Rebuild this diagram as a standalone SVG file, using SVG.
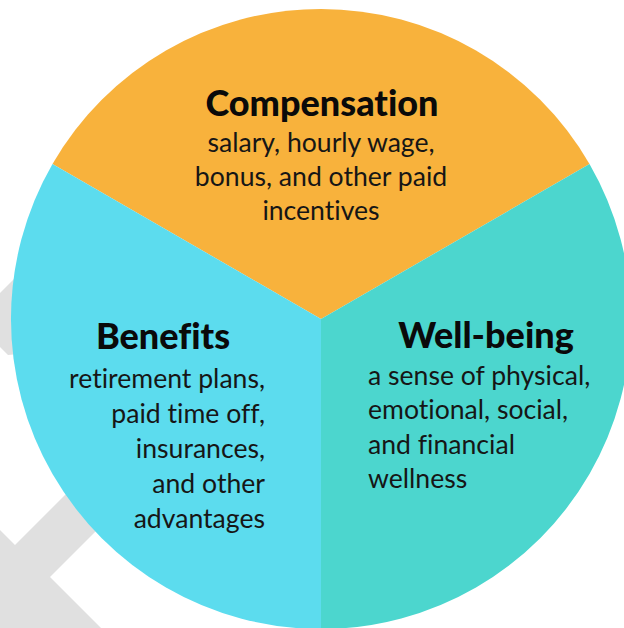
<svg xmlns="http://www.w3.org/2000/svg" width="624" height="628" viewBox="0 0 624 628">
  <style>
    text { font-variant-ligatures: none; }
    .head { font-family: Lato, "Liberation Sans", sans-serif; font-weight: 900; font-size: 36px; fill: #0a0a0a; }
    .body { font-family: Lato, "Liberation Sans", sans-serif; font-weight: 400; font-size: 26.6px; fill: #161616; }
    .mark { fill: #e0e0e0; }
  </style>
  <rect width="624" height="628" fill="#ffffff"/>

  <!-- faint background watermark strokes -->
  <g id="watermark">
    <polygon class="mark" points="0,293 40,253 40,352 8,355 0,347"/>
    <polygon class="mark" points="0,530 15,545 120,440 150,477 50,577 103,630 0,630"/>
  </g>

  <!-- wheel: three 120-degree sectors around (321,319), r=310 -->
  <g id="compensation">
    <path d="M321,319 L52.5,164 A310,310 0 0 1 589.5,164 Z" fill="#f8b23c"/>
    <text class="head" x="322" y="116" text-anchor="middle">Compensation</text>
    <text class="body" x="321" y="152" text-anchor="middle">salary, hourly wage,</text>
    <text class="body" x="321" y="186" text-anchor="middle">bonus, and other paid</text>
    <text class="body" x="321" y="220" text-anchor="middle">incentives</text>
  </g>

  <g id="benefits">
    <path d="M321,319 L321,629 A310,310 0 0 1 52.5,164 Z" fill="#5cdcee"/>
    <text class="head" x="163" y="349" text-anchor="middle">Benefits</text>
    <text class="body" x="265" y="388" text-anchor="end">retirement plans,</text>
    <text class="body" x="265" y="423" text-anchor="end">paid time off,</text>
    <text class="body" x="265" y="458" text-anchor="end">insurances,</text>
    <text class="body" x="265" y="493" text-anchor="end">and other</text>
    <text class="body" x="265" y="528" text-anchor="end">advantages</text>
  </g>

  <g id="well-being">
    <path d="M321,319 L589.5,164 A310,310 0 0 1 321,629 Z" fill="#4cd6ce"/>
    <text class="head" x="486" y="348" text-anchor="middle">Well-being</text>
    <text class="body" x="368" y="385">a sense of physical,</text>
    <text class="body" x="368" y="419">emotional, social,</text>
    <text class="body" x="368" y="454">and financial</text>
    <text class="body" x="368" y="488">wellness</text>
  </g>
</svg>
